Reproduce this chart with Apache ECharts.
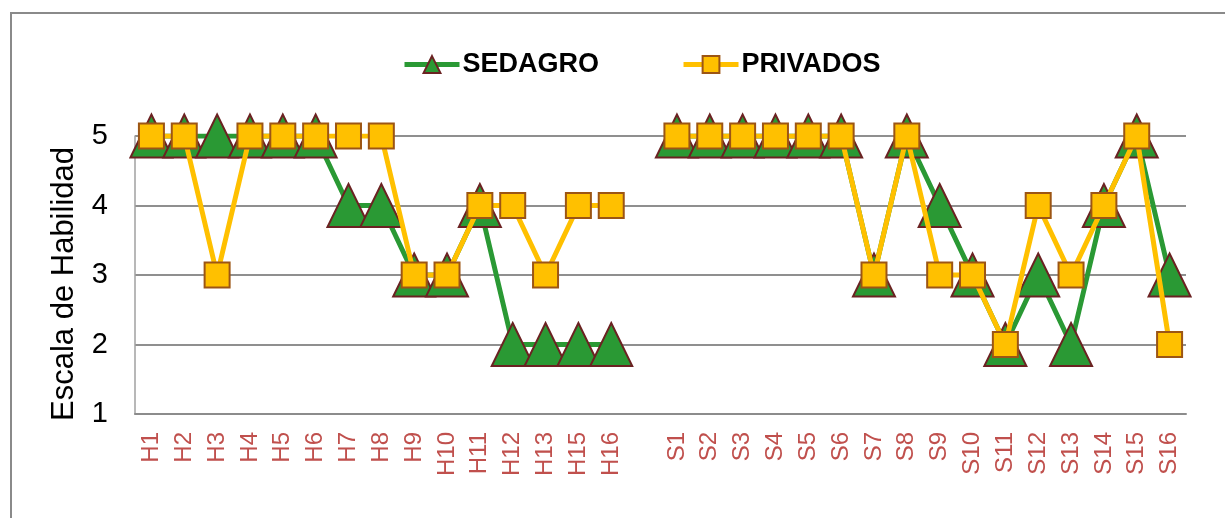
<!DOCTYPE html>
<html>
<head>
<meta charset="utf-8">
<script src="https://cdn.jsdelivr.net/npm/echarts@6/dist/echarts.min.js"></script>
<style>
html,body{margin:0;padding:0;background:#fff;}
#c{width:1225px;height:518px;}
</style>
</head>
<body>
<div id="c"></div>
<script>
// Categories (an empty slot separates the H and S groups)
const categories = ['H1','H2','H3','H4','H5','H6','H7','H8','H9','H10','H11','H12','H13','H15','H16','',
  'S1','S2','S3','S4','S5','S6','S7','S8','S9','S10','S11','S12','S13','S14','S15','S16'];
const sedagro = [5,5,5,5,5,5,4,4,3,3,4,2,2,2,2,null,
  5,5,5,5,5,5,3,5,4,3,2,3,2,4,5,3];
const privados = [5,5,3,5,5,5,5,5,3,3,4,4,3,4,4,null,
  5,5,5,5,5,5,3,5,3,3,2,4,3,4,5,2];
const yTicks = [1,2,3,4,5];

const FONT = '"Liberation Sans", Arial, sans-serif';
const chart = echarts.init(document.getElementById('c'));
chart.setOption({
  animation: false,
  backgroundColor: '#fff',
  graphic: [
    {type:'rect', shape:{x:11, y:13, width:1300, height:600}, style:{fill:'none', stroke:'#8a8a8a', lineWidth:2}, z:-1},
    {type:'text', x:64, y:284, rotation:Math.PI/2,
     style:{text:'Escala de Habilidad', font:'31px ' + FONT, fill:'#000', align:'center', verticalAlign:'middle'}}
  ],
  legend: {
    left: 397, top: 46,
    itemWidth: 55, itemHeight: 21, itemGap: 82,
    lineStyle: {width: 5},
    textStyle: {fontFamily: FONT, fontSize: 27, fontWeight: 'bold', color: '#000', padding:[0,0,0,-2]},
    data: ['SEDAGRO','PRIVADOS']
  },
  grid: {left:135, right:39, top:136, bottom:104, containLabel:false},
  xAxis: {
    type:'category', data: categories, boundaryGap: true,
    axisLine:{show:true, lineStyle:{color:'#8c8c8c', width:2}},
    axisTick:{show:false},
    axisLabel:{rotate:90, interval:0, margin:18, color:'#C0504D', fontFamily:FONT, fontSize:24}
  },
  yAxis: {
    type:'value', min:1, max:5, interval:1,
    axisLine:{show:true, lineStyle:{color:'#a0a0a0', width:1.5}},
    axisTick:{show:false},
    splitLine:{show:true, lineStyle:{color:'#8f8f8f', width:2}},
    axisLabel:{margin:27, color:'#000', fontFamily:FONT, fontSize:29,
      formatter: v => yTicks.includes(v) ? String(v) : ''}
  },
  series: [
    {
      name:'SEDAGRO', type:'line', data: sedagro, connectNulls:false,
      symbol:'triangle', symbolSize:[42,43],
      lineStyle:{color:'#2A9934', width:5},
      itemStyle:{color:'#2A9934', borderColor:'#6B2222', borderWidth:2},
      z: 2
    },
    {
      name:'PRIVADOS', type:'line', data: privados, connectNulls:false,
      symbol:'rect', symbolSize:25,
      lineStyle:{color:'#FFC000', width:5},
      itemStyle:{color:'#FFC000', borderColor:'#9C5514', borderWidth:2},
      z: 3
    }
  ]
});
</script>
</body>
</html>
